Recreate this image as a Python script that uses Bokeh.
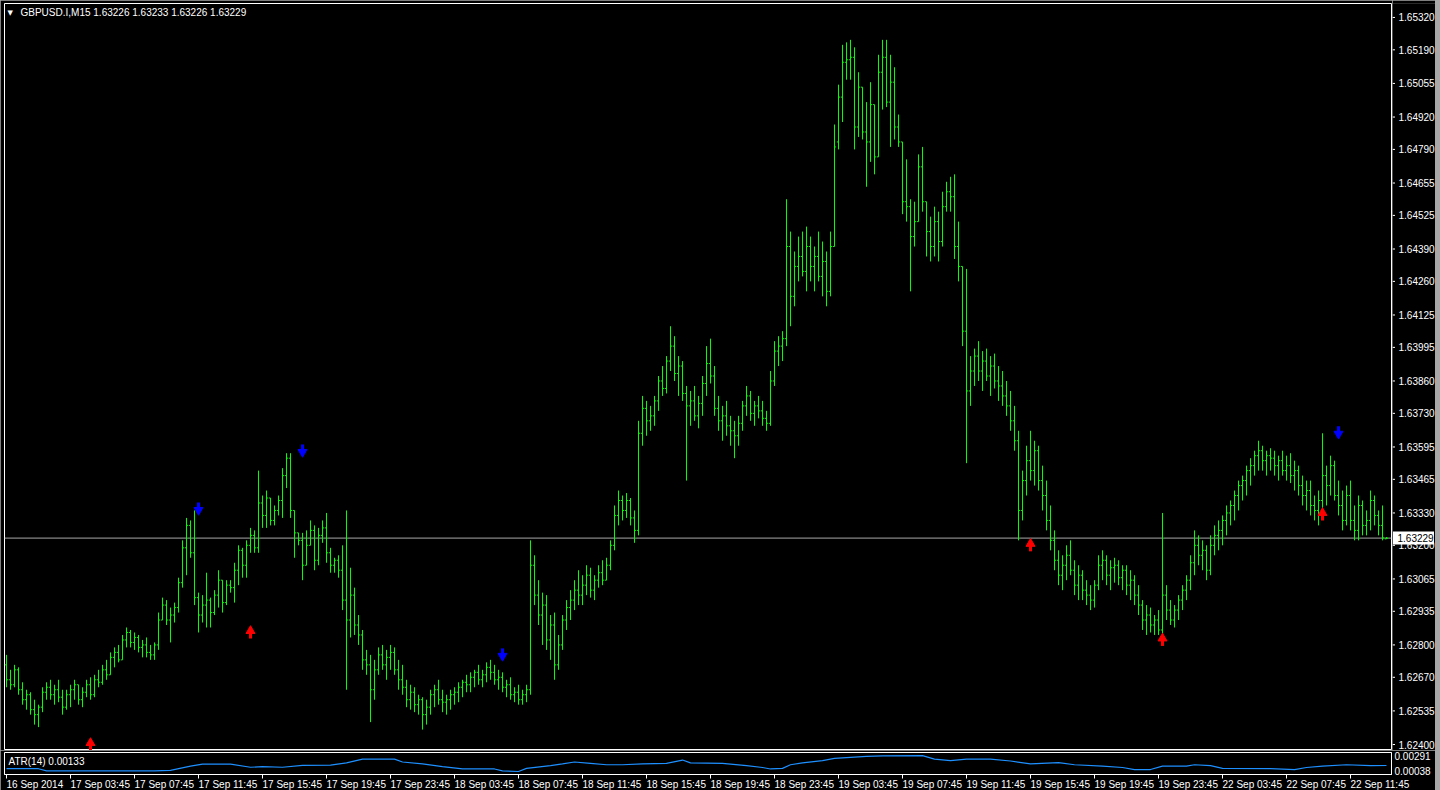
import numpy as np
from bokeh.plotting import figure
from bokeh.models import (Range1d, FixedTicker, PrintfTickFormatter, Label, Span,
                          ColumnDataSource, GlobalInlineStyleSheet)
from bokeh.layouts import column, row
from bokeh.embed import file_html
from bokeh.resources import INLINE
from bokeh.core.properties import value

# ---------------- data (GBPUSD.I, M15) ----------------
SYMBOL = "GBPUSD.I,M15"

OPEN = [
1.6272,1.6266,1.6264,1.6270,1.6262,1.6258,1.6260,1.6254,1.6252,1.6255,
1.6261,1.6263,1.6260,1.6262,1.6259,1.6255,1.6260,1.6262,1.6264,1.6258,
1.6261,1.6264,1.6260,1.6266,1.6265,1.6270,1.6268,1.6275,1.6277,1.6274,
1.6282,1.6285,1.6281,1.6283,1.6279,1.6280,1.6277,1.6276,1.6280,1.6290,
1.6296,1.6290,1.6292,1.6295,1.6305,1.6319,1.6328,1.6317,1.6299,1.6292,
1.6296,1.6298,1.6293,1.6300,1.6306,1.6297,1.6304,1.6303,1.6310,1.6318,
1.6312,1.6320,1.6324,1.6319,1.6337,1.6332,1.6339,1.6330,1.6334,1.6338,
1.6348,1.6355,1.6334,1.6325,1.6322,1.6312,1.6320,1.6326,1.6314,1.6324,
1.6327,1.6317,1.6312,1.6314,1.6310,1.6298,1.6290,1.6300,1.6288,1.6284,
1.6274,1.6272,1.6262,1.6270,1.6276,1.6272,1.6275,1.6277,1.6270,1.6266,
1.6263,1.6258,1.6261,1.6256,1.6258,1.6252,1.6255,1.6260,1.6262,1.6258,
1.6257,1.6258,1.6260,1.6261,1.6263,1.6265,1.6264,1.6267,1.6269,1.6266,
1.6268,1.6271,1.6269,1.6266,1.6267,1.6263,1.6264,1.6260,1.6261,1.6258,
1.6260,1.6262,1.6312,1.6300,1.6292,1.6296,1.6282,1.6288,1.6272,1.6280,
1.6290,1.6295,1.6298,1.6302,1.6300,1.6304,1.6308,1.6302,1.6306,1.6309,
1.6306,1.6312,1.6320,1.6332,1.6338,1.6334,1.6338,1.6331,1.6326,1.6365,
1.6375,1.6370,1.6372,1.6378,1.6386,1.6383,1.6394,1.6400,1.6389,1.6392,
1.6381,1.6376,1.6378,1.6372,1.6377,1.6385,1.6393,1.6388,1.6375,1.6370,
1.6372,1.6368,1.6366,1.6364,1.6369,1.6376,1.6380,1.6373,1.6376,1.6374,
1.6371,1.6369,1.6386,1.6398,1.6400,1.6403,1.6440,1.6420,1.6432,1.6436,
1.6430,1.6440,1.6432,1.6436,1.6428,1.6434,1.6422,1.6440,1.6482,1.6500,
1.6514,1.6515,1.6516,1.6488,1.6504,1.6486,1.6482,1.6497,1.6476,1.6510,
1.6516,1.6498,1.6506,1.6488,1.6482,1.6458,1.6456,1.6444,1.6450,1.6472,
1.6458,1.6446,1.6440,1.6450,1.6442,1.6456,1.6462,1.6460,1.6440,1.6432,
1.6406,1.6382,1.6390,1.6396,1.6390,1.6394,1.6388,1.6392,1.6386,1.6384,
1.6380,1.6376,1.6370,1.6362,1.6334,1.6346,1.6354,1.6350,1.6358,1.6346,
1.6340,1.6330,1.6322,1.6314,1.6308,1.6312,1.6316,1.6310,1.6304,1.6308,
1.6302,1.6300,1.6298,1.6304,1.6312,1.6314,1.6308,1.6311,1.6312,1.6307,
1.6310,1.6304,1.6306,1.6300,1.6296,1.6290,1.6292,1.6288,1.6290,1.6286,
1.6300,1.6294,1.6290,1.6294,1.6298,1.6302,1.6306,1.6313,1.6320,1.6316,
1.6318,1.6310,1.6320,1.6324,1.6326,1.6330,1.6333,1.6336,1.6340,1.6344,
1.6346,1.6350,1.6352,1.6356,1.6358,1.6354,1.6356,1.6355,1.6352,1.6354,
1.6350,1.6352,1.6348,1.6350,1.6344,1.6340,1.6342,1.6336,1.6334,1.6338,
1.6348,1.6344,1.6352,1.6340,1.6336,1.6330,1.6340,1.6330,1.6326,1.6336,
1.6328,1.6330,1.6338,1.6332,1.6328,1.63226]

HIGH = [
1.6276,1.6270,1.6272,1.6271,1.6265,1.6262,1.6261,1.6258,1.6256,1.6263,
1.6265,1.6266,1.6264,1.6266,1.6262,1.6262,1.6264,1.6266,1.6264,1.6263,
1.6266,1.6267,1.6268,1.6270,1.6272,1.6274,1.6277,1.6279,1.6280,1.6284,
1.6287,1.6286,1.6285,1.6284,1.6282,1.6283,1.6280,1.6281,1.6293,1.6299,
1.6298,1.6295,1.6297,1.6307,1.6322,1.6331,1.6330,1.6334,1.6301,1.6300,
1.6309,1.6299,1.6302,1.6310,1.6306,1.6306,1.6306,1.6313,1.6320,1.6319,
1.6322,1.6327,1.6326,1.6350,1.6340,1.6342,1.6339,1.6336,1.6340,1.6351,
1.6357,1.6357,1.6334,1.6325,1.6325,1.6326,1.6330,1.6328,1.6327,1.6330,
1.6333,1.6319,1.6315,1.6316,1.6320,1.6334,1.6311,1.6303,1.6292,1.6286,
1.6278,1.6276,1.6274,1.6279,1.6280,1.6278,1.6280,1.6279,1.6274,1.6272,
1.6266,1.6264,1.6263,1.6260,1.6259,1.6258,1.6262,1.6264,1.6266,1.6262,
1.6260,1.6262,1.6263,1.6265,1.6266,1.6268,1.6269,1.6270,1.6272,1.6270,
1.6273,1.6274,1.6272,1.6270,1.6269,1.6266,1.6267,1.6263,1.6264,1.6262,
1.6264,1.6322,1.6316,1.6306,1.6301,1.6300,1.6292,1.6293,1.6284,1.6292,
1.6298,1.6302,1.6306,1.6310,1.6308,1.6312,1.6311,1.6308,1.6312,1.6314,
1.6315,1.6322,1.6336,1.6342,1.6340,1.6341,1.6339,1.6334,1.6370,1.6380,
1.6378,1.6376,1.6380,1.6388,1.6392,1.6396,1.6408,1.6404,1.6396,1.6394,
1.6384,1.6382,1.6384,1.6380,1.6388,1.6400,1.6403,1.6392,1.6380,1.6376,
1.6378,1.6372,1.6370,1.6372,1.6378,1.6384,1.6382,1.6378,1.6380,1.6378,
1.6374,1.6390,1.6402,1.6404,1.6406,1.6459,1.6446,1.6438,1.6444,1.6446,
1.6448,1.6444,1.6440,1.6446,1.6442,1.6438,1.6446,1.6489,1.6505,1.6521,
1.6522,1.6523,1.6520,1.6510,1.6504,1.6498,1.6506,1.6497,1.6517,1.6523,
1.6523,1.6517,1.6512,1.6493,1.6482,1.6475,1.6459,1.6458,1.6477,1.6480,
1.6458,1.6452,1.6456,1.6454,1.6462,1.6466,1.6468,1.6469,1.6450,1.6432,
1.6431,1.6396,1.6399,1.6402,1.6398,1.6399,1.6396,1.6397,1.6392,1.6390,
1.6386,1.6382,1.6376,1.6366,1.6350,1.6360,1.6366,1.6362,1.6360,1.6352,
1.6346,1.6336,1.6326,1.6318,1.6316,1.6320,1.6322,1.6314,1.6312,1.6310,
1.6306,1.6304,1.6306,1.6316,1.6318,1.6316,1.6314,1.6315,1.6314,1.6312,
1.6312,1.6310,1.6308,1.6304,1.6298,1.6296,1.6295,1.6292,1.6294,1.6333,
1.6304,1.6298,1.6296,1.6300,1.6304,1.6308,1.6316,1.6326,1.6324,1.6322,
1.6320,1.6324,1.6328,1.6330,1.6332,1.6336,1.6338,1.6342,1.6346,1.6348,
1.6352,1.6355,1.6358,1.6362,1.6360,1.6358,1.6359,1.6358,1.6356,1.6358,
1.6356,1.6357,1.6354,1.6352,1.6348,1.6346,1.6346,1.6340,1.6342,1.6365,
1.6352,1.6356,1.6354,1.6346,1.6342,1.6344,1.6346,1.6336,1.6340,1.6338,
1.6334,1.6342,1.6340,1.6334,1.6336,1.63233]

LOW = [
1.6263,1.6262,1.6263,1.6260,1.6256,1.6254,1.6252,1.6248,1.6247,1.6253,
1.6258,1.6258,1.6256,1.6257,1.6252,1.6254,1.6255,1.6258,1.6256,1.6255,
1.6259,1.6258,1.6259,1.6263,1.6264,1.6266,1.6268,1.6271,1.6273,1.6274,
1.6279,1.6279,1.6278,1.6277,1.6275,1.6275,1.6274,1.6274,1.6278,1.6290,
1.6288,1.6281,1.6289,1.6293,1.6303,1.6308,1.6315,1.6296,1.6285,1.6289,
1.6287,1.6287,1.6292,1.6295,1.6293,1.6296,1.6301,1.6297,1.6304,1.6307,
1.6307,1.6317,1.6317,1.6317,1.6327,1.6327,1.6328,1.6328,1.6332,1.6331,
1.6343,1.6331,1.6315,1.6320,1.6306,1.6312,1.6320,1.6310,1.6312,1.6321,
1.6313,1.6309,1.6309,1.6307,1.6294,1.6262,1.6283,1.6284,1.6280,1.6270,
1.6268,1.6249,1.6258,1.6268,1.6270,1.6266,1.6270,1.6268,1.6262,1.6260,
1.6255,1.6254,1.6253,1.6252,1.6246,1.6248,1.6252,1.6255,1.6256,1.6253,
1.6252,1.6254,1.6256,1.6257,1.6259,1.6261,1.6261,1.6263,1.6264,1.6263,
1.6265,1.6266,1.6264,1.6262,1.6261,1.6259,1.6258,1.6257,1.6256,1.6256,
1.6257,1.6260,1.6296,1.6288,1.6280,1.6278,1.6274,1.6266,1.6270,1.6278,
1.6286,1.6290,1.6294,1.6296,1.6296,1.6300,1.6299,1.6298,1.6303,1.6304,
1.6306,1.6310,1.6318,1.6328,1.6330,1.6331,1.6328,1.6321,1.6324,1.6360,
1.6364,1.6366,1.6368,1.6374,1.6380,1.6381,1.6390,1.6386,1.6380,1.6378,
1.6346,1.6368,1.6370,1.6367,1.6372,1.6380,1.6385,1.6372,1.6366,1.6362,
1.6364,1.6360,1.6355,1.6360,1.6366,1.6372,1.6370,1.6368,1.6371,1.6368,
1.6366,1.6368,1.6384,1.6392,1.6394,1.6400,1.6408,1.6416,1.6426,1.6428,
1.6422,1.6426,1.6422,1.6426,1.6420,1.6416,1.6420,1.6440,1.6479,1.6490,
1.6507,1.6507,1.6479,1.6484,1.6483,1.6464,1.6474,1.6469,1.6476,1.6495,
1.6496,1.6480,1.6483,1.6480,1.6453,1.6450,1.6422,1.6440,1.6450,1.6454,
1.6436,1.6434,1.6436,1.6434,1.6440,1.6454,1.6454,1.6435,1.6426,1.6400,
1.6353,1.6376,1.6384,1.6386,1.6382,1.6386,1.6380,1.6383,1.6378,1.6376,
1.6372,1.6366,1.6358,1.6322,1.6330,1.6340,1.6346,1.6344,1.6342,1.6334,
1.6326,1.6318,1.6310,1.6304,1.6302,1.6306,1.6308,1.6300,1.6298,1.6298,
1.6296,1.6294,1.6295,1.6302,1.6306,1.6304,1.6302,1.6305,1.6304,1.6302,
1.6300,1.6298,1.6296,1.6292,1.6286,1.6284,1.6285,1.6284,1.6284,1.6284,
1.6290,1.6288,1.6287,1.6290,1.6294,1.6298,1.6302,1.6308,1.6312,1.6310,
1.6306,1.6308,1.6316,1.6318,1.6320,1.6324,1.6328,1.6330,1.6334,1.6338,
1.6340,1.6344,1.6348,1.6350,1.6350,1.6348,1.6350,1.6348,1.6346,1.6348,
1.6346,1.6345,1.6342,1.6340,1.6336,1.6334,1.6332,1.6330,1.6328,1.6334,
1.6336,1.6340,1.6338,1.6332,1.6326,1.6328,1.6326,1.6322,1.6322,1.6324,
1.6324,1.6326,1.6328,1.6324,1.6322,1.63226]

CLOSE = [
1.6266,1.6264,1.6270,1.6262,1.6258,1.6260,1.6254,1.6252,1.6255,1.6261,
1.6263,1.6260,1.6262,1.6259,1.6255,1.6260,1.6262,1.6264,1.6258,1.6261,
1.6264,1.6260,1.6266,1.6265,1.6270,1.6268,1.6275,1.6277,1.6274,1.6282,
1.6285,1.6281,1.6283,1.6279,1.6280,1.6277,1.6276,1.6280,1.6290,1.6296,
1.6290,1.6292,1.6295,1.6305,1.6319,1.6328,1.6317,1.6299,1.6292,1.6296,
1.6298,1.6293,1.6300,1.6306,1.6297,1.6304,1.6303,1.6310,1.6318,1.6312,
1.6320,1.6324,1.6319,1.6337,1.6332,1.6339,1.6330,1.6334,1.6338,1.6348,
1.6355,1.6334,1.6325,1.6322,1.6312,1.6320,1.6326,1.6314,1.6324,1.6327,
1.6317,1.6312,1.6314,1.6310,1.6298,1.6290,1.6300,1.6288,1.6284,1.6274,
1.6272,1.6262,1.6270,1.6276,1.6272,1.6275,1.6277,1.6270,1.6266,1.6263,
1.6258,1.6261,1.6256,1.6258,1.6252,1.6255,1.6260,1.6262,1.6258,1.6257,
1.6258,1.6260,1.6261,1.6263,1.6265,1.6264,1.6267,1.6269,1.6266,1.6268,
1.6271,1.6269,1.6266,1.6267,1.6263,1.6264,1.6260,1.6261,1.6258,1.6260,
1.6262,1.6312,1.6300,1.6292,1.6296,1.6282,1.6288,1.6272,1.6280,1.6290,
1.6295,1.6298,1.6302,1.6300,1.6304,1.6308,1.6302,1.6306,1.6309,1.6306,
1.6312,1.6320,1.6332,1.6338,1.6334,1.6338,1.6331,1.6326,1.6365,1.6375,
1.6370,1.6372,1.6378,1.6386,1.6383,1.6394,1.6400,1.6389,1.6392,1.6381,
1.6376,1.6378,1.6372,1.6377,1.6385,1.6393,1.6388,1.6375,1.6370,1.6372,
1.6368,1.6366,1.6364,1.6369,1.6376,1.6380,1.6373,1.6376,1.6374,1.6371,
1.6369,1.6386,1.6398,1.6400,1.6403,1.6440,1.6420,1.6432,1.6436,1.6430,
1.6440,1.6432,1.6436,1.6428,1.6434,1.6422,1.6440,1.6480,1.6500,1.6514,
1.6515,1.6516,1.6488,1.6504,1.6486,1.6482,1.6497,1.6476,1.6510,1.6516,
1.6498,1.6506,1.6488,1.6482,1.6458,1.6456,1.6444,1.6450,1.6472,1.6458,
1.6446,1.6440,1.6450,1.6442,1.6456,1.6462,1.6460,1.6440,1.6432,1.6406,
1.6382,1.6390,1.6396,1.6390,1.6394,1.6388,1.6392,1.6386,1.6384,1.6380,
1.6376,1.6370,1.6362,1.6334,1.6346,1.6354,1.6350,1.6358,1.6346,1.6340,
1.6330,1.6322,1.6314,1.6308,1.6312,1.6316,1.6310,1.6304,1.6308,1.6302,
1.6300,1.6298,1.6304,1.6312,1.6314,1.6308,1.6311,1.6312,1.6307,1.6310,
1.6304,1.6306,1.6300,1.6296,1.6290,1.6292,1.6288,1.6290,1.6286,1.6300,
1.6294,1.6290,1.6294,1.6298,1.6302,1.6306,1.6313,1.6320,1.6316,1.6318,
1.6310,1.6320,1.6324,1.6326,1.6330,1.6333,1.6336,1.6340,1.6344,1.6346,
1.6350,1.6352,1.6356,1.6358,1.6354,1.6356,1.6355,1.6352,1.6354,1.6350,
1.6352,1.6348,1.6350,1.6344,1.6340,1.6342,1.6336,1.6334,1.6338,1.6348,
1.6344,1.6352,1.6340,1.6336,1.6330,1.6340,1.6330,1.6326,1.6336,1.6328,
1.6330,1.6338,1.6332,1.6328,1.6323,1.63229]

# time axis: bar index of each labelled bar and its label
TIME_TICK_IDX = [0, 16, 32, 48, 64, 80, 96, 112, 128, 144, 160,
                 176, 192, 208, 224, 240, 256, 272, 288, 304, 320, 336]
TIME_LABELS = ["16 Sep 2014", "17 Sep 03:45", "17 Sep 07:45", "17 Sep 11:45",
               "17 Sep 15:45", "17 Sep 19:45", "17 Sep 23:45", "18 Sep 03:45",
               "18 Sep 07:45", "18 Sep 11:45", "18 Sep 15:45", "18 Sep 19:45",
               "18 Sep 23:45", "19 Sep 03:45", "19 Sep 07:45", "19 Sep 11:45",
               "19 Sep 15:45", "19 Sep 19:45", "19 Sep 23:45", "22 Sep 03:45",
               "22 Sep 07:45", "22 Sep 11:45"]

PRICE_TICKS = [1.65320, 1.65190, 1.65055, 1.64920, 1.64790, 1.64655, 1.64525,
               1.64390, 1.64260, 1.64125, 1.63995, 1.63860, 1.63730, 1.63595,
               1.63465, 1.63330, 1.63200, 1.63065, 1.62935, 1.62800, 1.62670,
               1.62535, 1.62400]
LAST_PRICE = 1.63229

# signal arrows (bar index, price level of the arrow)
DOWN_IDX = [48, 74, 124, 333]
DOWN_PRICE = [1.63348, 1.63581, 1.62762, 1.63654]
UP_IDX = [21, 61, 256, 289, 329]
UP_PRICE = [1.62400, 1.62850, 1.63200, 1.62820, 1.63324]

# ATR(14) read at bar indices
ATR_IDX = [0, 8, 10, 37, 41, 46, 49, 56, 61, 64,
           69, 74, 81, 85, 89, 97, 99, 104, 109, 114,
           122, 124, 128, 130, 136, 139, 142, 146, 150, 154,
           159, 165, 169, 171, 179, 185, 189, 191, 194, 196,
           199, 204, 207, 215, 219, 229, 232, 236, 240, 246,
           251, 256, 263, 267, 274, 279, 282, 286, 289, 295,
           297, 301, 304, 316, 322, 325, 329, 335, 341, 345]
ATR_VAL = [0.00085, 0.00082, 0.00048, 0.00048, 0.00056, 0.00122, 0.00154, 0.00154, 0.00105, 0.00114,
           0.00105, 0.00135, 0.00138, 0.00175, 0.00234, 0.00234, 0.00189, 0.00158, 0.00114, 0.00078,
           0.00078, 0.00048, 0.00038, 0.00087, 0.00131, 0.00158, 0.00189, 0.00167, 0.00145, 0.00145,
           0.00158, 0.00167, 0.00220, 0.00175, 0.00167, 0.00131, 0.00101, 0.00078, 0.00087, 0.00145,
           0.00175, 0.00211, 0.00247, 0.00278, 0.00285, 0.00291, 0.00234, 0.00211, 0.00234, 0.00234,
           0.00205, 0.00158, 0.00180, 0.00145, 0.00122, 0.00101, 0.00069, 0.00069, 0.00122, 0.00122,
           0.00145, 0.00131, 0.00087, 0.00082, 0.00069, 0.00101, 0.00122, 0.00145, 0.00131, 0.00133]
ATR_TICKS = [0.00038, 0.00291]
ATR_LAST = 0.00133

N = len(CLOSE)
assert len(OPEN) == N and len(HIGH) == N and len(LOW) == N
assert len(ATR_IDX) == len(ATR_VAL)

# ---------------- style ----------------
FONT = "Liberation Sans"
BAR_COLOR = "#00ff00"
W = 1435
CHART_W = 1392          # chart figure incl. 4px left border, 1px right border
AXIS_W = W - CHART_W    # price-scale strip
X0, X1 = -0.5, 346.25   # 4 px per bar
Y0, Y1 = 1.62376, 1.65376
MAIN_H, TOP_B = 750, 3
PX = (Y1 - Y0) / (MAIN_H - TOP_B)      # price per screen pixel (arrow shapes)
TICK = 0.375

idx = np.arange(N)
src = ColumnDataSource(dict(x=idx, o=OPEN, h=HIGH, l=LOW, c=CLOSE,
                            xl=idx - TICK, xr=idx + TICK))

main = figure(width=CHART_W, height=MAIN_H, x_range=Range1d(X0, X1),
              y_range=Range1d(Y0, Y1),
              output_backend="svg", toolbar_location=None,
              x_axis_location=None, y_axis_location=None,
              background_fill_color="black", border_fill_color="black",
              outline_line_color="white", outline_line_width=1,
              min_border_left=4, min_border_right=1,
              min_border_top=TOP_B, min_border_bottom=0)
main.grid.visible = False

main.add_layout(Span(location=LAST_PRICE, dimension="width",
                     line_color="#a8a8a8", line_width=1, level="underlay"))

main.segment(x0="x", y0="l", x1="x", y1="h", source=src,
             line_color=BAR_COLOR, line_width=1)
main.segment(x0="xl", y0="o", x1="x", y1="o", source=src,
             line_color=BAR_COLOR, line_width=1)
main.segment(x0="x", y0="c", x1="xr", y1="c", source=src,
             line_color=BAR_COLOR, line_width=1)

# arrows: thick stem + triangular head
dn_src = ColumnDataSource(dict(x=DOWN_IDX,
                               st=[p + 6 * PX for p in DOWN_PRICE],
                               sb=[p - 0.5 * PX for p in DOWN_PRICE],
                               hd=[p - 1.6 * PX for p in DOWN_PRICE]))
up_src = ColumnDataSource(dict(x=UP_IDX,
                               st=[p - 6 * PX for p in UP_PRICE],
                               sb=[p + 0.5 * PX for p in UP_PRICE],
                               hd=[p + 1.6 * PX for p in UP_PRICE]))
main.segment(x0="x", y0="st", x1="x", y1="sb", source=dn_src,
             line_color="#0000ff", line_width=3)
main.scatter(x="x", y="hd", source=dn_src, marker="inverted_triangle", size=9,
             fill_color="#0000ff", line_color="#0000ff")
main.segment(x0="x", y0="st", x1="x", y1="sb", source=up_src,
             line_color="#ff0000", line_width=3)
main.scatter(x="x", y="hd", source=up_src, marker="triangle", size=9,
             fill_color="#ff0000", line_color="#ff0000")

main.add_layout(Label(x=X0, y=Y1, x_offset=3, y_offset=-5,
                      text="\u25bc", text_color="white",
                      text_font="DejaVu Sans", text_font_size="7px",
                      text_baseline="top"))
main.add_layout(Label(x=X0, y=Y1, x_offset=16, y_offset=-3,
                      text="%s  %.5f %.5f %.5f %.5f" % (SYMBOL, OPEN[-1], HIGH[-1], LOW[-1], CLOSE[-1]),
                      text_color="white", text_font=FONT, text_font_size="10px",
                      text_baseline="top"))

# ---------------- price scale strip (shares the price scale) ----------------
scale = figure(width=AXIS_W, height=MAIN_H, x_range=Range1d(0, AXIS_W),
               y_range=main.y_range,
               output_backend="svg", toolbar_location=None,
               x_axis_location=None, y_axis_location=None,
               background_fill_color="black", border_fill_color="black",
               outline_line_color=None,
               min_border_left=0, min_border_right=0,
               min_border_top=TOP_B, min_border_bottom=0)
scale.grid.visible = False
scale.segment(x0=0, y0=PRICE_TICKS, x1=2.5, y1=PRICE_TICKS, line_color="white", line_width=1)
scale.text(x=6, y=PRICE_TICKS, text=["%.5f" % t for t in PRICE_TICKS],
           text_color="white", text_font=value(FONT), text_font_size="10px",
           text_align="left", text_baseline="middle")
scale.rect(x=21, y=LAST_PRICE, width=41, height=13, height_units="screen",
           fill_color="white", line_color=None)
scale.text(x=5, y=[LAST_PRICE], text=["%.5f" % LAST_PRICE],
           text_color="black", text_font=value(FONT), text_font_size="10px",
           text_align="left", text_baseline="middle")

# ---------------- ATR panel ----------------
atr = figure(width=W, height=48, x_range=main.x_range,
             y_range=Range1d(-0.0001, 0.0034),
             output_backend="svg", toolbar_location=None,
             y_axis_location="right",
             background_fill_color="black", border_fill_color="black",
             outline_line_color="white", outline_line_width=1,
             min_border_left=4, min_border_right=44,
             min_border_top=2, min_border_bottom=0)
atr.grid.visible = False
atr.line(ATR_IDX, ATR_VAL, line_color="#1e90ff", line_width=1.2)

ry = atr.yaxis[0]
ry.ticker = FixedTicker(ticks=ATR_TICKS)
ry.formatter = PrintfTickFormatter(format="%.5f")
ry.major_label_text_color = "white"
ry.major_label_text_font = FONT
ry.major_label_text_font_size = "10px"
ry.major_label_standoff = 3
ry.major_tick_out = 0
ry.major_tick_in = 0
ry.minor_tick_out = 0
ry.minor_tick_in = 0
ry.axis_line_color = "white"

ax = atr.xaxis[0]
ax.ticker = FixedTicker(ticks=TIME_TICK_IDX)
ax.major_label_overrides = {t: s for t, s in zip(TIME_TICK_IDX, TIME_LABELS)}
ax.major_label_orientation = -1e-4      # numeric orientation -> labels start at the tick
ax.major_label_text_color = "white"
ax.major_label_text_font = FONT
ax.major_label_text_font_size = "10px"
ax.major_label_standoff = 6
ax.major_tick_out = 4
ax.major_tick_in = 0
ax.minor_tick_out = 0
ax.minor_tick_in = 0
ax.major_tick_line_color = "white"
ax.axis_line_color = "white"

atr.add_layout(Label(x=X0, y=0.0034, x_offset=4, y_offset=-3,
                     text="ATR(14) %.5f" % ATR_LAST, text_color="white",
                     text_font=FONT, text_font_size="10px", text_baseline="top"))

page = column(row(main, scale, spacing=0), atr, spacing=0,
              stylesheets=[GlobalInlineStyleSheet(
                  css="html, body { margin: 0; padding: 0; background: #a8a8a8; overflow: hidden; }")])

open("out.html", "w").write(file_html(page, INLINE))
